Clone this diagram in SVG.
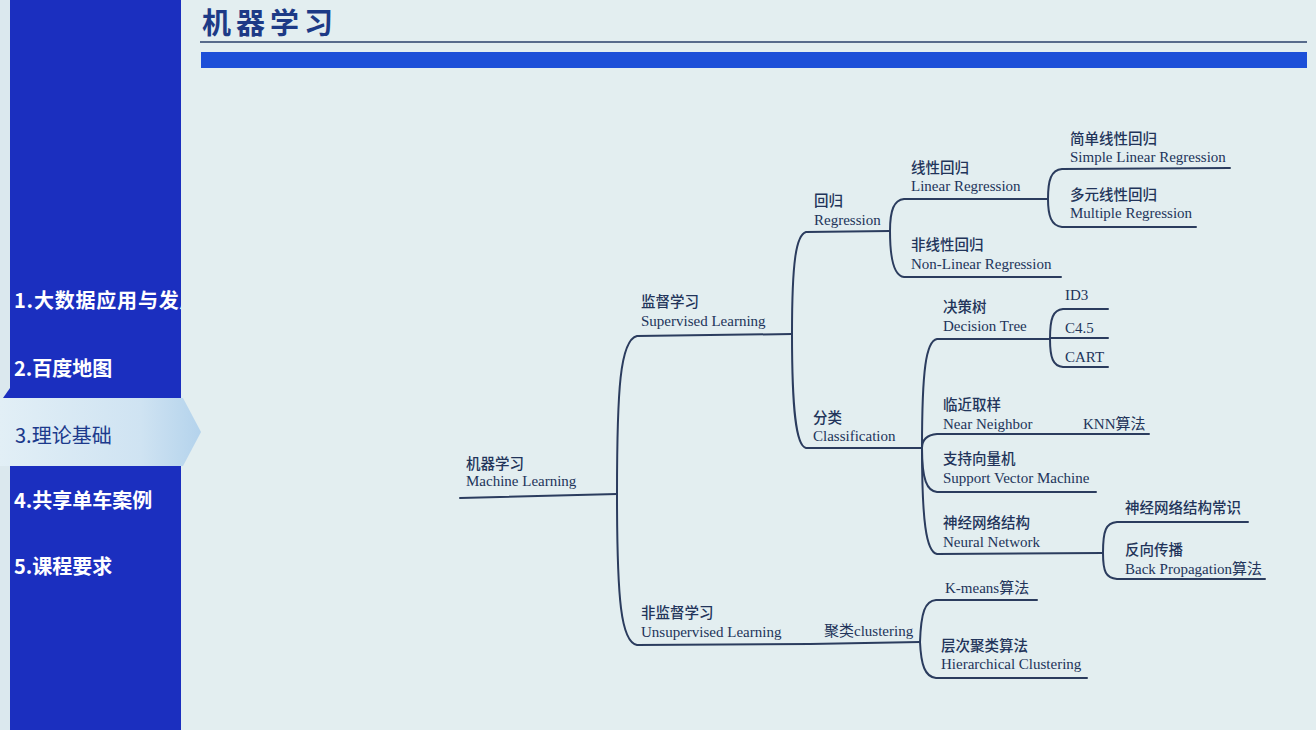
<svg xmlns="http://www.w3.org/2000/svg" width="1316" height="730" viewBox="0 0 1316 730">
  <defs>
    <linearGradient id="navActive" x1="0" y1="0" x2="1" y2="0">
      <stop offset="0" stop-color="#e2eff6"/>
      <stop offset="0.7" stop-color="#cfe3f2"/>
      <stop offset="1" stop-color="#b4d3ec"/>
    </linearGradient>
    <clipPath id="navClip">
      <rect x="10" y="0" width="171" height="730"/>
    </clipPath>
    <style>
      .nav { font-family: "Noto Sans CJK SC", "Liberation Sans", sans-serif; font-size: 20px; font-weight: 700; fill: #ffffff; }
      .nav-active { font-family: "Noto Sans CJK SC", "Liberation Sans", sans-serif; font-size: 20px; font-weight: 400; fill: #1c3a8c; }
      .title { font-family: "Noto Sans CJK SC", sans-serif; font-size: 29px; font-weight: 700; fill: #1d3a86; letter-spacing: 5px; }
      .lbl { font-family: "Liberation Serif", "Noto Sans CJK SC", serif; font-size: 15px; fill: #22345a; }
      .zh { font-family: "Noto Sans CJK SC", sans-serif; font-size: 14.5px; font-weight: 500; fill: #22345a; }
      .edge { fill: none; stroke: #2b3c5e; stroke-width: 2; stroke-linecap: round; }
    </style>
  </defs>

  <!-- page background -->
  <rect x="0" y="0" width="1316" height="730" fill="#e3eef0"/>
  <rect x="0" y="0" width="10" height="730" fill="#dbe8ee"/>

  <!-- navigation sidebar -->
  <g id="sidebar">
    <rect x="10" y="0" width="171" height="730" fill="#1b2fbf"/>
    <path d="M0,398 L183,398 L201,432 L183,466 L0,466 Z" fill="url(#navActive)"/>
    <path d="M3,398 L10,388 L10,398 Z" fill="#1b2fbf"/>
    <g clip-path="url(#navClip)">
      <text class="nav" x="14" y="308" letter-spacing="0.8">1.大数据应用与发展</text>
    </g>
    <text class="nav" x="14" y="376">2.百度地图</text>
    <text class="nav-active" x="15" y="443">3.理论基础</text>
    <text class="nav" x="14" y="508">4.共享单车案例</text>
    <text class="nav" x="14" y="574">5.课程要求</text>
  </g>

  <!-- page heading -->
  <g id="heading">
    <text class="title" x="202" y="34">机器学习</text>
    <line x1="200" y1="42" x2="1307" y2="42" stroke="#2a3f6a" stroke-width="1.5"/>
    <rect x="201" y="52" width="1106" height="16" fill="#1d4fd8"/>
  </g>

  <!-- connectors of the mind map -->
  <g id="connectors">
    <path class="edge" d="M460,498 L617,494"/>
    <path class="edge" d="M617,494 C617,390 620,340 637,336 L792,334"/>
    <path class="edge" d="M617,494 C617,600 621,642 637,645 L810,644 L920,642"/>
    <path class="edge" d="M792,334 C792,262 796,235 806,232 L890,231"/>
    <path class="edge" d="M792,334 C792,410 796,446 806,448 L922,448"/>
    <path class="edge" d="M890,231 C890,210 894,200 904,199 L1048,199"/>
    <path class="edge" d="M890,231 C890,260 894,276 904,277 L1061,277"/>
    <path class="edge" d="M1048,199 C1048,180 1051,170 1062,169 L1230,168"/>
    <path class="edge" d="M1048,199 C1048,215 1051,226 1062,227 L1196,227"/>
    <path class="edge" d="M922,448 C922,370 926,341 937,339 L1050,339"/>
    <path class="edge" d="M922,448 C922,440 927,435 937,434 L1149,434"/>
    <path class="edge" d="M922,448 C922,480 927,491 937,492 L1096,492"/>
    <path class="edge" d="M922,448 C922,520 926,552 937,554 L1103,553"/>
    <path class="edge" d="M1050,339 C1050,318 1053,310 1063,309 L1108,309"/>
    <path class="edge" d="M1050,338 L1108,338"/>
    <path class="edge" d="M1050,339 C1050,358 1053,366 1063,367 L1108,367"/>
    <path class="edge" d="M1103,553 C1103,530 1106,523 1117,522 L1248,522"/>
    <path class="edge" d="M1103,553 C1103,572 1106,578 1117,579 L1265,579"/>
    <path class="edge" d="M920,642 C921,612 925,601 936,600 L1037,600"/>
    <path class="edge" d="M920,642 C921,665 925,677 936,678 L1087,678"/>
  </g>

  <!-- nodes -->
  <g id="node-ml">
    <text class="zh" x="466" y="469">机器学习</text>
    <text class="lbl" x="466" y="486">Machine Learning</text>
  </g>
  <g id="node-supervised">
    <text class="zh" x="641" y="307">监督学习</text>
    <text class="lbl" x="641" y="326">Supervised Learning</text>
  </g>
  <g id="node-unsupervised">
    <text class="zh" x="641" y="618">非监督学习</text>
    <text class="lbl" x="641" y="637">Unsupervised Learning</text>
  </g>
  <g id="node-regression">
    <text class="zh" x="814" y="206">回归</text>
    <text class="lbl" x="814" y="225">Regression</text>
  </g>
  <g id="node-classification">
    <text class="zh" x="813" y="423">分类</text>
    <text class="lbl" x="813" y="441">Classification</text>
  </g>
  <g id="node-linear">
    <text class="zh" x="911" y="173">线性回归</text>
    <text class="lbl" x="911" y="191">Linear Regression</text>
  </g>
  <g id="node-nonlinear">
    <text class="zh" x="911" y="250">非线性回归</text>
    <text class="lbl" x="911" y="269">Non-Linear Regression</text>
  </g>
  <g id="node-simple">
    <text class="zh" x="1070" y="144">简单线性回归</text>
    <text class="lbl" x="1070" y="162">Simple Linear Regression</text>
  </g>
  <g id="node-multiple">
    <text class="zh" x="1070" y="200">多元线性回归</text>
    <text class="lbl" x="1070" y="218">Multiple Regression</text>
  </g>
  <g id="node-decision-tree">
    <text class="zh" x="943" y="312">决策树</text>
    <text class="lbl" x="943" y="331">Decision Tree</text>
  </g>
  <g id="node-id3"><text class="lbl" x="1065" y="300">ID3</text></g>
  <g id="node-c45"><text class="lbl" x="1065" y="333">C4.5</text></g>
  <g id="node-cart"><text class="lbl" x="1065" y="362">CART</text></g>
  <g id="node-near-neighbor">
    <text class="zh" x="943" y="410">临近取样</text>
    <text class="lbl" x="943" y="429">Near Neighbor</text>
  </g>
  <g id="node-knn"><text class="lbl" x="1083" y="429">KNN算法</text></g>
  <g id="node-svm">
    <text class="zh" x="943" y="464">支持向量机</text>
    <text class="lbl" x="943" y="483">Support Vector Machine</text>
  </g>
  <g id="node-neural">
    <text class="zh" x="943" y="528">神经网络结构</text>
    <text class="lbl" x="943" y="547">Neural Network</text>
  </g>
  <g id="node-neural-basics"><text class="zh" x="1125" y="513">神经网络结构常识</text></g>
  <g id="node-backprop">
    <text class="zh" x="1125" y="555">反向传播</text>
    <text class="lbl" x="1125" y="574">Back Propagation算法</text>
  </g>
  <g id="node-clustering"><text class="lbl" x="824" y="636">聚类clustering</text></g>
  <g id="node-kmeans"><text class="lbl" x="945" y="593">K-means算法</text></g>
  <g id="node-hierarchical">
    <text class="zh" x="941" y="651">层次聚类算法</text>
    <text class="lbl" x="941" y="669">Hierarchical Clustering</text>
  </g>
</svg>
